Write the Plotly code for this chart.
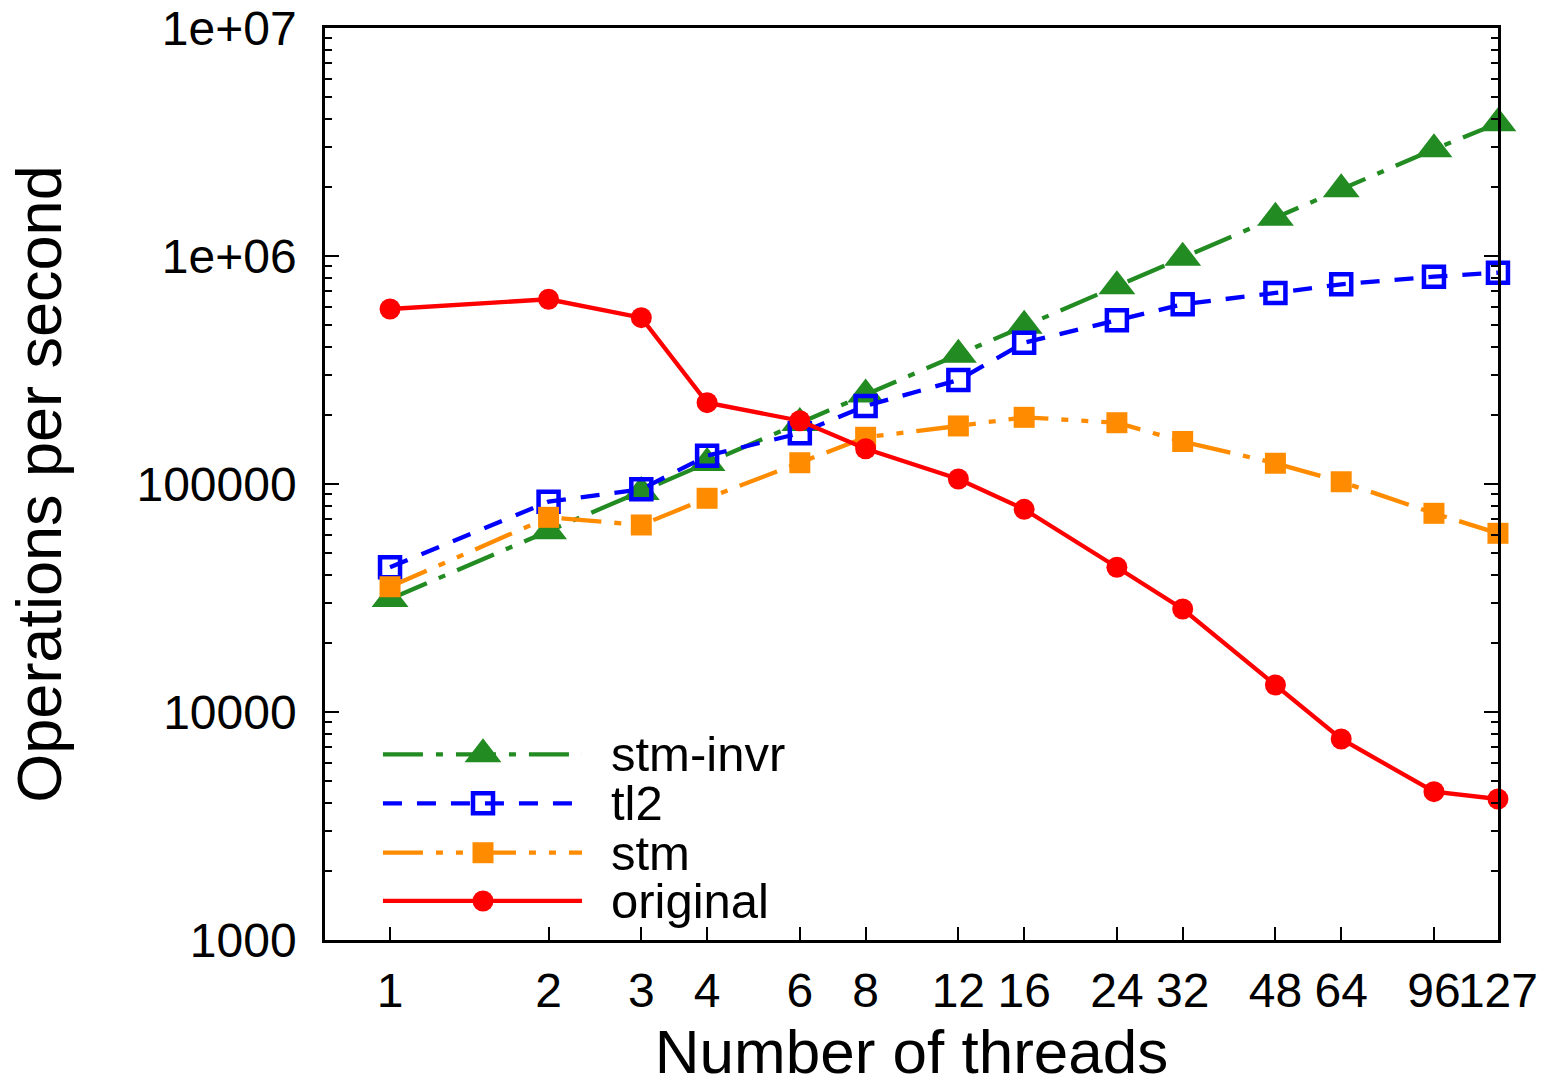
import plotly.graph_objects as go

threads = [1, 2, 3, 4, 6, 8, 12, 16, 24, 32, 48, 64, 96, 127]
x_tick_labels = ["1", "2", "3", "4", "6", "8", "12", "16", "24", "32", "48", "64", "96", "127"]

stm_invr = [31300, 62000, 92200, 123600, 185100, 246900, 369100, 494800,
            736500, 982900, 1471000, 1961000, 2938000, 3820000]
tl2 = [43120, 83630, 94800, 133100, 166900, 219900, 285900, 416600,
       522400, 614600, 688300, 751500, 811600, 845100]
stm = [35440, 71430, 66110, 86560, 123990, 160300, 179700, 196100,
       185700, 153600, 123300, 102300, 74380, 60780]
original = [585600, 645900, 536300, 227300, 189500, 142800, 105200, 77450,
            43120, 28300, 13130, 7614, 4472, 4153]

y_tick_vals = [1000, 10000, 100000, 1000000, 10000000]
y_tick_labels = ["1000", "10000", "100000", "1e+06", "1e+07"]

series_names = ["stm-invr", "tl2", "stm", "original"]
series_values = [stm_invr, tl2, stm, original]

styles = {
    "stm-invr": dict(color="#228B22", dash="40px,13px,7px,13px",
                     marker=dict(symbol="triangle-up", size=32, color="#228B22",
                                 line=dict(width=0))),
    "tl2": dict(color="#0000FF", dash="19px,15px",
                marker=dict(symbol="square-open", size=20, color="#0000FF",
                            line=dict(width=4.5, color="#0000FF"))),
    "stm": dict(color="#FF8C00", dash="40px,13px,7px,13px,7px,13px",
                marker=dict(symbol="square", size=21, color="#FF8C00",
                            line=dict(width=0))),
    "original": dict(color="#FF0000", dash="solid",
                     marker=dict(symbol="circle", size=21, color="#FF0000",
                                 line=dict(width=0))),
}

FONT = "Liberation Sans, Arial, Helvetica, sans-serif"

fig = go.Figure()
for name, vals in zip(series_names, series_values):
    st = styles[name]
    fig.add_trace(go.Scatter(
        x=threads, y=vals, name=name, mode="lines+markers",
        line=dict(color=st["color"], width=4.3, dash=st["dash"]),
        marker=st["marker"], showlegend=False, cliponaxis=False,
    ))

# custom gnuplot-style legend (long line samples)
leg_x0, leg_x1, leg_xm, leg_xt = 0.0494, 0.2191, 0.1347, 0.2421
leg_rows = [0.2036, 0.1499, 0.0957, 0.0428]
shapes = []
annotations = []
for name, ry in zip(series_names, leg_rows):
    st = styles[name]
    shapes.append(dict(type="line", xref="paper", yref="paper",
                       x0=leg_x0, x1=leg_x1, y0=ry, y1=ry, layer="below",
                       line=dict(color=st["color"], width=4.3, dash=st["dash"])))
    annotations.append(dict(xref="paper", yref="paper", x=leg_xt, y=ry,
                            xanchor="left", yanchor="middle", showarrow=False,
                            text=name, font=dict(size=49, color="black", family=FONT)))
    fig.add_trace(go.Scatter(
        x=[leg_xm], y=[ry], xaxis="x2", yaxis="y2", mode="markers",
        marker=st["marker"], showlegend=False, hoverinfo="skip", cliponaxis=False,
    ))

fig.update_layout(
    width=1547, height=1086,
    margin=dict(l=325, r=49, t=28, b=146, autoexpand=False),
    paper_bgcolor="white", plot_bgcolor="white",
    font=dict(family=FONT, color="black"),
    shapes=shapes, annotations=annotations,
    xaxis=dict(
        type="log", range=[-0.1235, 2.1039],
        tickvals=threads, ticktext=x_tick_labels, tickangle=0,
        ticks="inside", ticklen=13, tickwidth=2, tickcolor="black",
        showline=True, linewidth=2.5, linecolor="black", mirror=True,
        showgrid=False, zeroline=False,
        tickfont=dict(size=48, family=FONT, color="black"),
        ticklabelstandoff=7,
        title=dict(text="Number of threads", font=dict(size=62, family=FONT, color="black"),
                   standoff=37),
    ),
    yaxis=dict(
        type="log", range=[3, 7],
        tickvals=y_tick_vals, ticktext=y_tick_labels,
        ticks="inside", ticklen=14, tickwidth=2, tickcolor="black",
        minor=dict(ticks="inside", ticklen=7, tickwidth=2, tickcolor="black",
                   dtick="D1", showgrid=False),
        showline=True, linewidth=2.5, linecolor="black", mirror="allticks",
        showgrid=False, zeroline=False,
        tickfont=dict(size=48, family=FONT, color="black"),
        ticklabelstandoff=16,
        title=dict(text="Operations per second", font=dict(size=63, family=FONT, color="black"),
                   standoff=55),
    ),
    xaxis2=dict(overlaying="x", range=[0, 1], visible=False, fixedrange=True),
    yaxis2=dict(overlaying="y", range=[0, 1], visible=False, fixedrange=True),
)

fig.write_html("out.html", config={"displayModeBar": False},
               post_script="document.body.style.margin='0px';document.body.style.overflow='hidden';")
